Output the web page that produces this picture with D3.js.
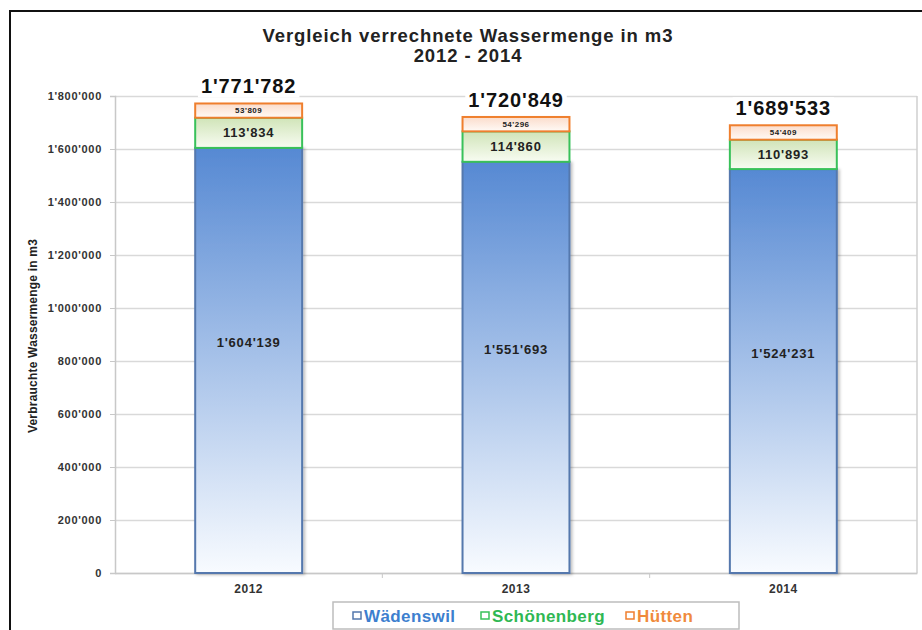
<!DOCTYPE html>
<html><head><meta charset="utf-8">
<script src="https://cdn.jsdelivr.net/npm/d3@7"></script>
<style>
html,body{margin:0;padding:0;background:#fff;}
svg{display:block;font-family:"Liberation Sans",Arial,sans-serif;}
</style></head>
<body><svg id="c" width="922" height="630"></svg>
<script>
const years = ["2012", "2013", "2014"];
const seriesNames = ["Wädenswil", "Schönenberg", "Hütten"];
const waedenswil = [1604139, 1551693, 1524231];
const schoenenberg = [113834, 114860, 110893];
const huetten = [53809, 54296, 54409];
const totals = [1771782, 1720849, 1689533];
const yTicks = [0, 200000, 400000, 600000, 800000, 1000000, 1200000, 1400000, 1600000, 1800000];
const titleLines = ["Vergleich verrechnete Wassermenge in m3", "2012 - 2014"];
const yTitle = "Verbrauchte Wassermenge in m3";

const fmt = v => d3.format(",")(v).replace(/,/g, "'");
const svg = d3.select("#c");
const defs = svg.append("defs");

function grad(id, c1, c2) {
  const g = defs.append("linearGradient").attr("id", id).attr("x1", 0).attr("y1", 0).attr("x2", 0).attr("y2", 1);
  g.append("stop").attr("offset", "0%").attr("stop-color", c1);
  g.append("stop").attr("offset", "100%").attr("stop-color", c2);
}
grad("gBlue", "#5689d3", "#f8fbff");
grad("gGreen", "#d0e4b8", "#f8fcf2");
grad("gOrange", "#fbdccb", "#fffaf6");
const f = defs.append("filter").attr("id", "sh").attr("x", "-10%").attr("y", "-10%").attr("width", "130%").attr("height", "130%");
f.append("feDropShadow").attr("dx", 2).attr("dy", 1).attr("stdDeviation", 1.5).attr("flood-color", "#000").attr("flood-opacity", 0.25);

const colors = [
  {fill: "url(#gBlue)", stroke: "#5478ad", text: "#3d7fcf"},
  {fill: "url(#gGreen)", stroke: "#39c15a", text: "#2fb853"},
  {fill: "url(#gOrange)", stroke: "#ef7f2e", text: "#f08a3c"}
];

// outer frame
svg.append("rect").attr("x", 10).attr("y", 11).attr("width", 930).attr("height", 640)
  .attr("fill", "none").attr("stroke", "#111").attr("stroke-width", 2);

const L = 115, R = 917, T = 96, B = 573;
const x = d3.scaleBand().domain(years).range([L, R]).paddingInner(0.6).paddingOuter(0.3);
const y = d3.scaleLinear().domain([0, 1800000]).range([B, T]);

// gridlines
const grid = svg.append("g").attr("transform", `translate(${L},0)`)
  .call(d3.axisLeft(y).tickValues(yTicks).tickSize(-(R - L)).tickFormat(""));
grid.select(".domain").remove();
grid.selectAll("line").attr("stroke", "#d9d9d9").attr("stroke-width", 1.5);

// plot right border
svg.append("line").attr("x1", R).attr("x2", R).attr("y1", T).attr("y2", B).attr("stroke", "#cfcfcf").attr("stroke-width", 1.5);

// y axis
const ya = svg.append("g").attr("transform", `translate(${L},0)`)
  .call(d3.axisLeft(y).tickValues(yTicks).tickSize(5).tickPadding(8).tickFormat(fmt));
ya.select(".domain").attr("stroke", "#c8c8c8").attr("stroke-width", 1.5);
ya.selectAll("line").attr("stroke", "#c8c8c8");
ya.selectAll("text").attr("font-size", 11).attr("letter-spacing", 0.7).attr("font-weight", "bold").attr("fill", "#333")
  .attr("font-family", "Liberation Sans, Arial, sans-serif");

// x axis
const xa = svg.append("g").attr("transform", `translate(0,${B})`)
  .call(d3.axisBottom(x).tickSize(0).tickPadding(11));
xa.select(".domain").attr("stroke", "#c8c8c8").attr("stroke-width", 1.5);
xa.selectAll("text").attr("font-size", 12).attr("letter-spacing", 0.5).attr("font-weight", "bold").attr("fill", "#333")
  .attr("font-family", "Liberation Sans, Arial, sans-serif");
// category separator ticks
const step = x.step();
years.slice(1).forEach((yr) => {
  const xs = x(yr) - (step - x.bandwidth()) / 2;
  svg.append("line").attr("x1", xs).attr("x2", xs).attr("y1", B).attr("y2", B + 5).attr("stroke", "#c8c8c8");
});

// stacked bars
const rows = years.map((yr, i) => ({year: yr, v: [waedenswil[i], schoenenberg[i], huetten[i]], total: totals[i]}));
const bars = svg.append("g");
rows.forEach(r => {
  let base = 0;
  r.v.forEach((v, k) => {
    const y0 = y(base), y1 = y(base + v);
    bars.append("rect").attr("x", x(r.year)).attr("y", y1).attr("width", x.bandwidth()).attr("height", y0 - y1)
      .attr("fill", colors[k].fill).attr("stroke", colors[k].stroke).attr("stroke-width", 2)
      .attr("filter", k === 0 ? "url(#sh)" : null);
    base += v;
  });
});
// segment labels
rows.forEach(r => {
  let base = 0;
  r.v.forEach((v, k) => {
    const cy = (y(base) + y(base + v)) / 2 + (k === 0 ? -18 : 0);
    svg.append("text").attr("x", x(r.year) + x.bandwidth() / 2).attr("y", cy).attr("dy", "0.35em")
      .attr("text-anchor", "middle").attr("font-weight", "bold")
      .attr("letter-spacing", k === 2 ? 0.5 : 0.8)
      .attr("font-size", k === 2 ? 8 : 13).attr("fill", "#222").text(fmt(v));
    base += v;
  });
  // totals with white background
  const tx = x(r.year) + x.bandwidth() / 2, ty = y(r.total) - 17;
  const t = svg.append("text").attr("x", tx).attr("y", ty).attr("dy", "0.35em").attr("text-anchor", "middle")
    .attr("font-weight", "bold").attr("font-size", 20).attr("letter-spacing", 0.9).attr("fill", "#111").text(fmt(r.total));
  const bb = t.node().getBBox();
  svg.insert("rect", () => t.node()).attr("x", bb.x - 3).attr("y", bb.y).attr("width", bb.width + 6).attr("height", bb.height).attr("fill", "#fff");
});

// title
svg.append("text").attr("x", 468).attr("y", 36).attr("dy", "0.35em").attr("text-anchor", "middle")
  .attr("font-weight", "bold").attr("font-size", 18.5).attr("letter-spacing", 0.9).attr("fill", "#222").text(titleLines[0]);
svg.append("text").attr("x", 468).attr("y", 56).attr("dy", "0.35em").attr("text-anchor", "middle")
  .attr("font-weight", "bold").attr("font-size", 18.5).attr("letter-spacing", 0.9).attr("fill", "#222").text(titleLines[1]);

// y title
svg.append("text").attr("transform", "translate(33,336) rotate(-90)").attr("dy", "0.35em").attr("text-anchor", "middle")
  .attr("font-weight", "bold").attr("font-size", 12).attr("letter-spacing", 0.2).attr("fill", "#222").text(yTitle);

// legend
svg.append("rect").attr("x", 333).attr("y", 602).attr("width", 406).attr("height", 27)
  .attr("fill", "#fff").attr("stroke", "#bdbdbd").attr("stroke-width", 1.5);
const legX = [353, 481, 626];
seriesNames.forEach((n, k) => {
  svg.append("rect").attr("x", legX[k]).attr("y", 612).attr("width", 8).attr("height", 7)
    .attr("fill", "#fff").attr("stroke", colors[k].stroke).attr("stroke-width", 1.5);
  svg.append("text").attr("x", legX[k] + 11).attr("y", 616).attr("dy", "0.35em")
    .attr("font-weight", "bold").attr("font-size", 17).attr("letter-spacing", 0.4).attr("fill", colors[k].text).text(n);
});
</script></body></html>
